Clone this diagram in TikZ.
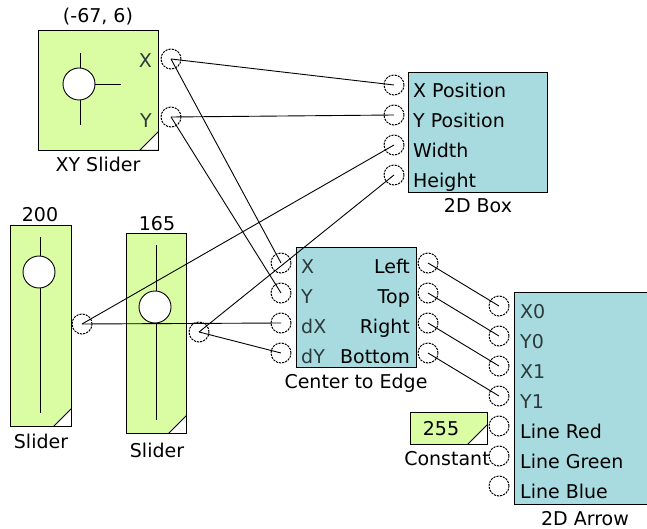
\documentclass[tikz,border=0pt]{standalone}
\usepackage{fontspec}
\setmainfont{DejaVu Sans}
\usetikzlibrary{positioning}
\definecolor{slidergreen}{HTML}{DAFCA2}
\definecolor{blockteal}{HTML}{A8DBDF}
\definecolor{portlabel}{HTML}{2C3A3A}

\begin{document}
\begin{tikzpicture}[x=1pt,y=-1pt,
  every node/.style={font=\fontsize{19}{22}\selectfont,inner sep=0pt},
  greenbox/.style={draw,line width=0.9pt,fill=slidergreen},
  tealbox/.style={draw,line width=0.9pt,fill=blockteal},
  knob/.style={draw,circle,fill=white,line width=0.9pt,minimum size=32pt},
  port/.style={draw,circle,minimum size=20pt,line width=1pt,dash pattern=on 2.2pt off 1pt},
  wire/.style={line width=0.9pt},
  inlbl/.style={anchor=base west},
  outlbl/.style={anchor=base east},
  caption/.style={anchor=base},
  corner/.style={draw,fill=white,line width=0.9pt},
]
  \useasboundingbox (0,0) rectangle (647,529);

  % XY slider
  \node[greenbox,minimum width=120pt,minimum height=120pt] (xy) at (98,90) {};
  \draw[wire] (80,53) -- (80,125);
  \node[knob] (xyknob) at (79,84) {};
  \draw[wire] (xyknob.east) -- (121,84);
  \draw[corner] ([yshift=19pt]xy.south east) -- (xy.south east) -- ([xshift=-19pt]xy.south east) -- cycle;
  \node[outlbl,text=portlabel] (xyXl) at (152,68) {X};
  \node[outlbl,text=portlabel] (xyYl) at (152,128) {Y};
  \node[caption] (xyval) at (98,23) {(-67, 6)};
  \node[caption] (xycap) at (98,172) {XY Slider};

  % sliders
  \node[greenbox,minimum width=61pt,minimum height=201pt] (sliderA) at (40.5,325.5) {};
  \draw[wire] (40,237) -- (40,413);
  \node[knob] (knobA) at (39,272) {};
  \draw[corner] ([yshift=18pt]sliderA.south east) -- (sliderA.south east) -- ([xshift=-18pt]sliderA.south east) -- cycle;
  \node[caption] (valA) at (40,222) {200};
  \node[caption] (capA) at (41,448) {Slider};

  \node[greenbox,minimum width=60pt,minimum height=200pt] (sliderB) at (156,333) {};
  \draw[wire] (156,245) -- (156,420);
  \node[knob] (knobB) at (155,307) {};
  \draw[corner] ([yshift=18pt]sliderB.south east) -- (sliderB.south east) -- ([xshift=-18pt]sliderB.south east) -- cycle;
  \node[caption] (valB) at (157,230) {165};
  \node[caption] (capB) at (157,457) {Slider};

  % 2D Box
  \node[tealbox,minimum width=139pt,minimum height=120pt] (box) at (477.5,132) {};
  \node[inlbl] at (413,98) {X Position};
  \node[inlbl] at (413,128) {Y Position};
  \node[inlbl] at (413,158) {Width};
  \node[inlbl] at (413,188) {Height};
  \node[caption] (boxcap) at (478,213) {2D Box};

  % Center to Edge
  \node[tealbox,minimum width=120pt,minimum height=120pt] (cte) at (356,307) {};
  \node[inlbl,text=portlabel] at (301,273) {X};
  \node[inlbl,text=portlabel] at (301,303) {Y};
  \node[inlbl,text=portlabel] at (301,333) {dX};
  \node[inlbl,text=portlabel] at (301,363) {dY};
  \node[outlbl] at (410,273) {Left};
  \node[outlbl] at (410,303) {Top};
  \node[outlbl] at (410,333) {Right};
  \node[outlbl] at (410,363) {Bottom};
  \node[caption] (ctecap) at (356,388) {Center to Edge};

  % 2D Arrow
  \node[tealbox,minimum width=142pt,minimum height=212pt] (arrow) at (585,398) {};
  \node[inlbl,text=portlabel] at (520,318) {X0};
  \node[inlbl,text=portlabel] at (520,348) {Y0};
  \node[inlbl,text=portlabel] at (520,378) {X1};
  \node[inlbl,text=portlabel] at (520,408) {Y1};
  \node[inlbl] at (520,438) {Line Red};
  \node[inlbl] at (520,468) {Line Green};
  \node[inlbl] at (520,498) {Line Blue};
  \node[caption] (arrowcap) at (585,525) {2D Arrow};

  % Constant
  \node[greenbox,minimum width=77pt,minimum height=32pt] (const) at (448.5,428) {};
  \draw[corner] ([yshift=20pt]const.south east) -- (const.south east) -- ([xshift=-20pt]const.south east) -- cycle;
  \node[caption] (constval) at (441,435) {255};
  \node[caption] (constcap) at (447,465) {Constant};

  % ports
  \node[port] (xyX) at (171,59) {};
  \node[port] (xyY) at (171,117) {};
  \node[port] (sA) at (82,324) {};
  \node[port] (sB) at (199,332) {};
  \node[port] (bxX) at (394,85) {};
  \node[port] (bxY) at (394,115) {};
  \node[port] (bxW) at (394,145) {};
  \node[port] (bxH) at (394,175) {};
  \node[port] (ceX) at (281,263) {};
  \node[port] (ceY) at (281,293) {};
  \node[port] (cedX) at (281,323) {};
  \node[port] (cedY) at (281,353) {};
  \node[port] (ceL) at (428,263) {};
  \node[port] (ceT) at (428,293) {};
  \node[port] (ceR) at (428,323) {};
  \node[port] (ceB) at (428,353) {};
  \foreach \i/\y in {1/306,2/336,3/366,4/396,5/426,6/456,7/486}
    \node[port] (ar\i) at (499,\y) {};

  % wires
  \draw[wire] (xyX.center) -- (bxX.center);
  \draw[wire] (xyY.center) -- (bxY.center);
  \draw[wire] (xyX.center) -- (ceX.center);
  \draw[wire] (xyY.center) -- (ceY.center);
  \draw[wire] (sA.center) -- (bxW.center);
  \draw[wire] (sA.center) -- (cedX.center);
  \draw[wire] (sB.center) -- (bxH.center);
  \draw[wire] (sB.center) -- (cedY.center);
  \draw[wire] (ceL.center) -- (ar1.center);
  \draw[wire] (ceT.center) -- (ar2.center);
  \draw[wire] (ceR.center) -- (ar3.center);
  \draw[wire] (ceB.center) -- (ar4.center);
\end{tikzpicture}
\end{document}
